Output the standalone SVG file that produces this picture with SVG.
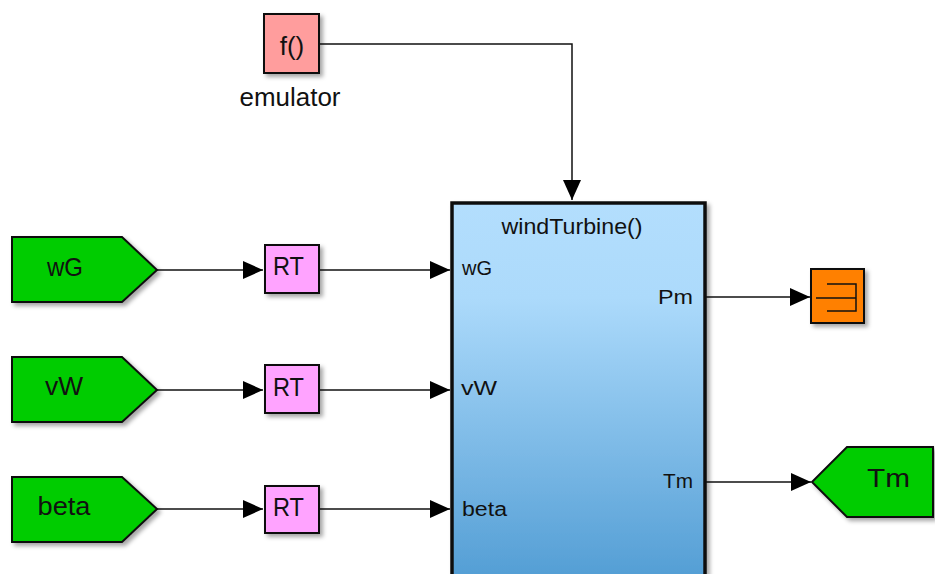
<svg xmlns="http://www.w3.org/2000/svg" width="935" height="574" viewBox="0 0 935 574">
<defs>
<linearGradient id="blue" x1="0" y1="0" x2="0" y2="1">
<stop offset="0" stop-color="#b3defd"/>
<stop offset="0.25" stop-color="#acdafb"/>
<stop offset="1" stop-color="#529dd4"/>
</linearGradient>
<filter id="sh" x="-20%" y="-20%" width="150%" height="150%">
<feDropShadow dx="3" dy="3" stdDeviation="2" flood-color="#000" flood-opacity="0.35"/>
</filter>
<marker id="arrL" markerWidth="20" markerHeight="18" refX="20" refY="9" orient="auto" markerUnits="userSpaceOnUse" viewBox="0 0 20 18">
<path d="M0,0 L20,9 L0,18 z" fill="#000"/>
</marker>
</defs>
<style>
text{font-family:"Liberation Sans",Arial,sans-serif;fill:#111}
.big{font-size:26px;text-anchor:middle}
.port{font-size:20px}
.blk{stroke:#111;stroke-width:2}
.wire{stroke:#111;stroke-width:1.5;fill:none}
</style>
<g id="connectors">
<path class="wire" d="M319,44 H572 V200" marker-end="url(#arrL)"/>
<path class="wire" d="M157,270 H263" marker-end="url(#arrL)"/>
<path class="wire" d="M319,270 H450" marker-end="url(#arrL)"/>
<path class="wire" d="M157,390 H263" marker-end="url(#arrL)"/>
<path class="wire" d="M319,390 H450" marker-end="url(#arrL)"/>
<path class="wire" d="M157,509 H263" marker-end="url(#arrL)"/>
<path class="wire" d="M319,509 H450" marker-end="url(#arrL)"/>
<path class="wire" d="M706,297 H810" marker-end="url(#arrL)"/>
<path class="wire" d="M706,482 H811" marker-end="url(#arrL)"/>
</g>
<g id="emulator">
<rect class="blk" x="264" y="14" width="55" height="59" fill="#ff9d9d" filter="url(#sh)"/>
<text class="big" x="292" y="55">f()</text>
<text class="big" x="290" y="106" textLength="101" lengthAdjust="spacingAndGlyphs">emulator</text>
</g>
<g id="from_wG">
<polygon class="blk" points="12,237 122,237 157,270 122,302 12,302" fill="#00cc00" filter="url(#sh)"/>
<text class="big" x="65" y="276" textLength="36" lengthAdjust="spacingAndGlyphs">wG</text>
</g>
<g id="from_vW">
<polygon class="blk" points="12,357 122,357 157,390 122,422 12,422" fill="#00cc00" filter="url(#sh)"/>
<text class="big" x="64" y="395" textLength="38" lengthAdjust="spacingAndGlyphs">vW</text>
</g>
<g id="from_beta">
<polygon class="blk" points="12,477 122,477 157,509 122,542 12,542" fill="#00cc00" filter="url(#sh)"/>
<text class="big" x="64" y="515" textLength="53" lengthAdjust="spacingAndGlyphs">beta</text>
</g>
<g id="rt1">
<rect class="blk" x="265" y="245" width="54" height="48" fill="#ffa3ff" filter="url(#sh)"/>
<text class="big" x="288.5" y="275" font-size="28" textLength="31" lengthAdjust="spacingAndGlyphs">RT</text>
</g>
<g id="rt2">
<rect class="blk" x="265" y="365" width="54" height="48" fill="#ffa3ff" filter="url(#sh)"/>
<text class="big" x="288.5" y="396" font-size="28" textLength="31" lengthAdjust="spacingAndGlyphs">RT</text>
</g>
<g id="rt3">
<rect class="blk" x="265" y="486" width="54" height="47" fill="#ffa3ff" filter="url(#sh)"/>
<text class="big" x="288.5" y="516" font-size="28" textLength="31" lengthAdjust="spacingAndGlyphs">RT</text>
</g>
<g id="windTurbine">
<rect x="452" y="203" width="253" height="380" fill="url(#blue)" stroke="#111" stroke-width="3.5" filter="url(#sh)"/>
<text x="572" y="234" font-size="22" text-anchor="middle" textLength="141" lengthAdjust="spacingAndGlyphs">windTurbine()</text>
<text class="port" x="462" y="275" textLength="30" lengthAdjust="spacingAndGlyphs">wG</text>
<text class="port" x="461" y="395" textLength="36" lengthAdjust="spacingAndGlyphs">vW</text>
<text class="port" x="462" y="516" font-size="21" textLength="45" lengthAdjust="spacingAndGlyphs">beta</text>
<text class="port" x="658" y="304" textLength="35" lengthAdjust="spacingAndGlyphs">Pm</text>
<text class="port" x="663" y="488" textLength="30" lengthAdjust="spacingAndGlyphs">Tm</text>
</g>
<g id="scope">
<rect class="blk" x="811" y="269" width="53" height="54" fill="#ff8000" filter="url(#sh)"/>
<path d="M827,284 H856 V311 H827 M816,298 H856" stroke="#111" stroke-width="1.5" fill="none"/>
</g>
<g id="goto_Tm">
<polygon class="blk" points="812,482 847,447 933,447 933,517 847,517" fill="#00cc00" filter="url(#sh)"/>
<text class="big" x="888.5" y="487" textLength="43" lengthAdjust="spacingAndGlyphs">Tm</text>
</g>
</svg>
